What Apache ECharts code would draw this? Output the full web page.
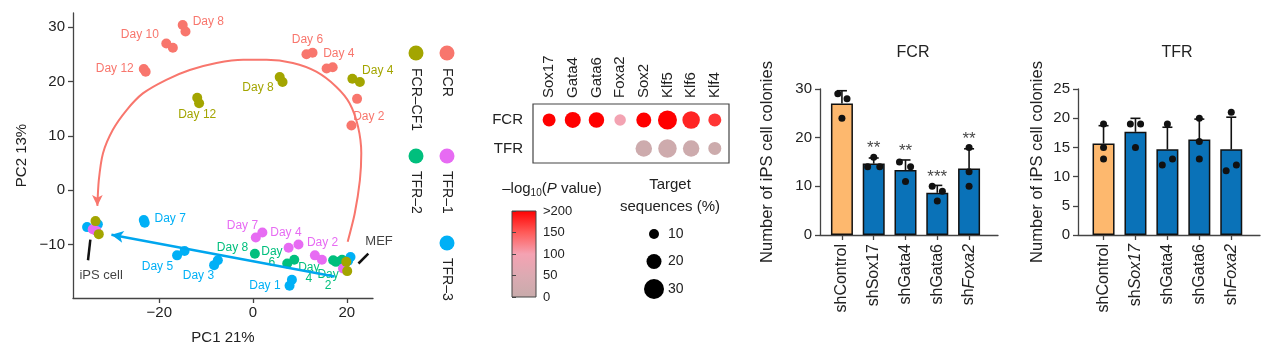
<!DOCTYPE html>
<html>
<head>
<meta charset="utf-8">
<script src="https://cdn.jsdelivr.net/npm/echarts@6/dist/echarts.min.js"></script>
<style>
  html, body { margin: 0; background: #fff; }
  #chart { width: 1269px; height: 354px; }
</style>
</head>
<body>
<div id="chart"></div>
<script>
const FONT = 'Liberation Sans, Arial, sans-serif';

// ---- PCA: [PC1, PC2, day label] (two replicates per time point) ----
const fcrPts = [
  [-15.0, 30.4, 'Day 8'], [-14.4, 29.2, ''],
  [-18.5, 27.0, 'Day 10'], [-17.1, 26.2, ''],
  [-23.3, 22.3, 'Day 12'], [-22.9, 21.8, ''],
  [11.4, 25.0, 'Day 6'], [12.7, 25.3, ''],
  [15.7, 22.4, 'Day 4'], [17.0, 22.6, ''],
  [21.0, 11.9, 'Day 2'], [22.2, 16.8, '']
];
const cf1Pts = [
  [21.2, 20.5, 'Day 4'], [22.8, 19.9, ''],
  [5.7, 20.8, 'Day 8'], [6.3, 19.9, ''],
  [-11.9, 17.0, 'Day 12'], [-11.5, 16.0, ''],
  [-33.6, -5.7, ''], [-32.9, -8.1, ''],
  [19.9, -13.2, ''], [20.1, -14.9, '']
];
const tfr1Pts = [
  [0.6, -8.7, 'Day 7'], [2.0, -7.8, ''],
  [7.6, -10.6, 'Day 4'], [9.7, -10.0, ''],
  [13.2, -12.0, 'Day 2'], [14.7, -12.8, ''],
  [-34.2, -7.2, ''], [-33.4, -7.5, ''],
  [19.2, -14.4, '']
];
const tfr2Pts = [
  [0.4, -11.7, 'Day 8'],
  [7.3, -13.5, 'Day\n6'], [8.8, -12.8, ''],
  [17.1, -12.9, 'Day\n4'], [17.7, -13.2, ''],
  [19.0, -12.8, 'Day\n2'], [19.5, -13.6, '']
];
const tfr3Pts = [
  [-23.3, -5.5, 'Day 7'], [-23.1, -6.0, ''],
  [-16.2, -12.0, 'Day 5'], [-14.6, -11.2, ''],
  [-8.3, -13.8, 'Day 3'], [-7.5, -12.9, ''],
  [7.8, -17.6, 'Day 1'], [8.3, -16.5, ''],
  [-35.4, -6.8, ''], [-33.1, -6.3, ''],
  [20.8, -12.3, ''], [20.3, -13.0, '']
];
// trajectory arrows (data coords)
const fcrArc = [
  [20.2, -9.5], [21.7, -4.3], [22.8, 1.8], [23.1, 6.8], [22.4, 11.7], [20.6, 16.0],
  [17.8, 19.0], [13.5, 21.8], [8.5, 23.4], [2.9, 24.0], [-2.1, 24.0], [-7.8, 23.4],
  [-13.5, 22.1], [-18.5, 20.3], [-23.5, 17.8], [-27.0, 14.7], [-29.9, 11.1],
  [-32.0, 6.8], [-32.9, 1.8], [-33.2, -2.9]
];
const tfrArrow = [[17.4, -15.9], [-30.2, -8.2]];
const pcaNotes = [
  { text: 'iPS cell', at: [-32.4, -15.7], line: [[-34.7, -9.1], [-35.2, -12.9]] },
  { text: 'MEF', at: [26.9, -9.5], line: [[22.5, -13.5], [24.6, -11.7]] }
];

// ---- motif dot plot ----
const genes = ['Sox17', 'Gata4', 'Gata6', 'Foxa2', 'Sox2', 'Klf5', 'Klf6', 'Klf4'];
const rows = ['FCR', 'TFR'];
const fcrTarget = [16, 22, 21, 13, 20, 28, 25, 16];      // target sequences (%)
const fcrLogP = [200, 200, 200, 95, 200, 200, 180, 170]; // -log10 P
const tfrTarget = [null, null, null, null, 23, 27, 23, 16];
const tfrLogP = [null, null, null, null, 12, 14, 12, 10];
const sizeLegend = [10, 20, 30];
const pTicks = [0, 50, 100, 150, 200];
const pColors = ['#c8abab', '#dcaab2', '#f5a2b2', '#ff5a58', '#ff0000'];

// ---- iPS colony counts (3 replicates) ----
const shNames = ['shControl', 'shSox17', 'shGata4', 'shGata6', 'shFoxa2'];
const fcrCounts = [[29, 28, 24], [14, 14, 16], [15, 14, 11], [10, 9, 7], [18, 13, 10]];
const fcrStars = ['', '**', '**', '***', '**'];
const tfrCounts = [[19, 15, 13], [19, 19, 15], [19, 12, 13], [20, 16, 13], [21, 11, 12]];
const fcrItalic = [false, false, false, false, true];
const tfrItalic = [false, true, false, false, true];
// horizontal dot offsets (in bar units) to mimic jitter
const fcrJitter = [[-0.13, 0.16, 0], [-0.19, 0.19, 0], [-0.19, 0.16, 0], [-0.16, 0.16, 0], [0, 0, 0]];
const tfrJitter = [[0, 0, 0], [-0.16, 0.16, 0], [0, -0.16, 0.16], [0, 0, 0], [0, -0.16, 0.16]];

const mean = a => a.reduce((s, v) => s + v, 0) / a.length;
const sd = a => { const m = mean(a); return Math.sqrt(a.reduce((s, v) => s + (v - m) ** 2, 0) / (a.length - 1)); };

const labelPlace = {
  'FCR|Day 8': ['left', 10, -3.3], 'FCR|Day 10': ['right', -7.4, -8.3], 'FCR|Day 12': ['right', -10, -0.7],
  'FCR|Day 6': ['center', 1, -14.3], 'FCR|Day 4': ['left', -3.4, -14.6], 'FCR|Day 2': ['left', 1.7, -9],
  'FCR–CF1|Day 4': ['left', 9.7, -8.3], 'FCR–CF1|Day 8': ['right', -6, 11], 'FCR–CF1|Day 12': ['center', 0, 17.3],
  'TFR–1|Day 7': ['right', 2.3, -11.6], 'TFR–1|Day 4': ['center', -2.7, -15], 'TFR–1|Day 2': ['left', -8, -12.7],
  'TFR–2|Day 8': ['right', -6.7, -5.6], 'TFR–2|Day 6': ['center', -15.3, -6.6],
  'TFR–2|Day 4': ['center', -24.3, 12.5], 'TFR–2|Day 2': ['center', -14, 20],
  'TFR–3|Day 7': ['left', 10.7, -1], 'TFR–3|Day 5': ['right', -4, 11.7],
  'TFR–3|Day 3': ['right', 0, 11], 'TFR–3|Day 1': ['right', -9, 0]
};
const groupColor = { 'FCR': '#F8766D', 'FCR–CF1': '#A3A500', 'TFR–1': '#E76BF3', 'TFR–2': '#00BF7D', 'TFR–3': '#00B0F6' };

function pcaSeries(name, pts) {
  const color = groupColor[name];
  return {
    type: 'scatter', name, xAxisIndex: 0, yAxisIndex: 0, symbolSize: 10,
    itemStyle: { color, opacity: 1 },
    data: pts.map(p => {
      const item = { value: [p[0], p[1]] };
      if (p[2]) {
        const pl = labelPlace[name + '|' + p[2].replace('\n', ' ')];
        item.label = {
          show: true, formatter: p[2], position: 'inside', align: pl[0], verticalAlign: 'middle',
          offset: [pl[1], pl[2]], color, fontSize: 12, lineHeight: 11, fontFamily: FONT
        };
      }
      return item;
    })
  };
}

const dotSize = pct => 5 + 0.5 * pct;

function barLabel(names, italic) {
  return v => {
    const i = Math.round(v);
    return italic[i] ? '{n|sh}{i|' + names[i].slice(2) + '}' : '{n|' + names[i] + '}';
  };
}

function barSet(idx, counts, jitter, stars) {
  const base = counts.map((c, i) => ({
    value: [i, mean(c)],
    itemStyle: { color: i === 0 ? '#FDB86E' : '#0A72B8' }
  }));
  const dots = [];
  counts.forEach((c, i) => c.forEach((v, j) => dots.push([i + jitter[i][j], v])));
  const out = [
    {
      type: 'bar', xAxisIndex: idx, yAxisIndex: idx, barWidth: 22, z: 2,
      itemStyle: { borderColor: '#111', borderWidth: 1.5 }, data: base
    },
    {
      type: 'custom', xAxisIndex: idx, yAxisIndex: idx, z: 3,
      data: counts.map((c, i) => [i, mean(c), sd(c)]),
      encode: { x: 0, y: 1 },
      renderItem: (params, api) => {
        const x = api.value(0), m = api.value(1), s = api.value(2);
        const a = api.coord([x, m]), b = api.coord([x, m + s]);
        const style = { stroke: '#111', lineWidth: 1.6 };
        return {
          type: 'group', children: [
            { type: 'line', shape: { x1: a[0], y1: a[1], x2: b[0], y2: b[1] }, style },
            { type: 'line', shape: { x1: b[0] - 5, y1: b[1], x2: b[0] + 5, y2: b[1] }, style }
          ]
        };
      }
    },
    {
      type: 'scatter', xAxisIndex: idx, yAxisIndex: idx, z: 4, symbolSize: 7,
      itemStyle: { color: '#111', opacity: 1 }, data: dots
    }
  ];
  if (stars) {
    out.push({
      type: 'scatter', xAxisIndex: idx, yAxisIndex: idx, z: 5, symbolSize: 0, silent: true,
      data: counts.map((c, i) => [i, Math.max(mean(c) + sd(c), Math.max(...c))]),
      label: {
        show: true, position: 'top', distance: 0, fontSize: 17, color: '#111', fontFamily: FONT,
        formatter: p => stars[p.dataIndex]
      }
    });
  }
  return out;
}

const axisLineStyle = { color: '#444', width: 1.3 };
const barRich = { n: { fontSize: 16, fontFamily: FONT, color: '#222' }, i: { fontSize: 16, fontFamily: FONT, color: '#222', fontStyle: 'italic' } };

function barAxes(idx, names, italic, yMax, yInt, xMin, xMax, nameGap) {
  const ticks = names.map((_, i) => i);
  const x = {
    gridIndex: idx, type: 'value', min: xMin, max: xMax,
    axisLine: { show: true, onZero: false, lineStyle: axisLineStyle },
    axisTick: { show: true, customValues: ticks, length: 5, lineStyle: axisLineStyle },
    axisLabel: { customValues: ticks, rotate: 90, margin: 9, formatter: barLabel(names, italic), rich: barRich },
    splitLine: { show: false }
  };
  const y = {
    gridIndex: idx, type: 'value', min: 0, max: yMax, interval: yInt,
    axisLine: { show: true, onZero: false, lineStyle: axisLineStyle },
    axisTick: { show: true, length: 5, lineStyle: axisLineStyle },
    axisLabel: { fontSize: 15, color: '#222', margin: 8 },
    splitLine: { show: false },
    name: 'Number of iPS cell colonies', nameLocation: 'middle', nameGap,
    nameTextStyle: { fontSize: 16.5, color: '#222', fontFamily: FONT }
  };
  return [x, y];
}

const chart = echarts.init(document.getElementById('chart'));

const fcrAx = barAxes(4, shNames, fcrItalic, 30, 10, -0.69, 4.91, 44);
const tfrAx = barAxes(5, shNames, tfrItalic, 25, 5, -0.8, 4.9, 32);

const pcaTicksX = [-20, 0, 20];
const pcaTicksY = [-10, 0, 10, 20, 30];
const minus = v => (v < 0 ? '\u2212' + (-v) : '' + v);

const gradStops = pColors.map((c, i) => ({ offset: 1 - pTicks[i] / 200, color: c })).reverse();

const option = {
  animation: false,
  textStyle: { fontFamily: FONT },
  title: [
    { text: 'FCR', left: 908, top: 40, textAlign: 'center', textStyle: { fontSize: 16, fontWeight: 'normal', color: '#222', fontFamily: FONT } },
    { text: 'TFR', left: 1172, top: 40, textAlign: 'center', textStyle: { fontSize: 16, fontWeight: 'normal', color: '#222', fontFamily: FONT } }
  ],
  grid: [
    { left: 73, top: 13, width: 300, height: 285 },
    { left: 533, top: 104, width: 196, height: 59, show: true, borderColor: '#444', borderWidth: 1.2, backgroundColor: 'transparent' },
    { left: 512, top: 211, width: 24, height: 86, show: true, borderColor: '#444', borderWidth: 1,
      backgroundColor: new echarts.graphic.LinearGradient(0, 0, 0, 1, gradStops) },
    { left: 644, top: 234, width: 20, height: 55 },
    { left: 820, top: 89, width: 178, height: 146 },
    { left: 1078, top: 89, width: 182, height: 146 }
  ],
  xAxis: [
    {
      gridIndex: 0, type: 'value', min: -38.4, max: 25.6,
      axisLine: { show: true, onZero: false, lineStyle: axisLineStyle },
      axisTick: { show: true, customValues: pcaTicksX, length: 5, lineStyle: axisLineStyle },
      axisLabel: { customValues: pcaTicksX, fontSize: 15, color: '#222', formatter: minus, margin: 7 },
      splitLine: { show: false },
      name: 'PC1 21%', nameLocation: 'middle', nameGap: 32,
      nameTextStyle: { fontSize: 15, color: '#222', fontFamily: FONT }
    },
    {
      gridIndex: 1, type: 'value', min: -0.68, max: 7.6, position: 'top',
      axisLine: { show: false }, axisTick: { show: false }, splitLine: { show: false },
      axisLabel: { customValues: genes.map((_, i) => i), rotate: 90, margin: 6, fontSize: 15, color: '#222',
        formatter: v => genes[Math.round(v)] }
    },
    { gridIndex: 2, type: 'value', min: 0, max: 1, show: false },
    { gridIndex: 3, type: 'value', min: -1, max: 1, show: false },
    fcrAx[0], tfrAx[0]
  ],
  yAxis: [
    {
      gridIndex: 0, type: 'value', min: -19.85, max: 32.6,
      axisLine: { show: true, onZero: false, lineStyle: axisLineStyle },
      axisTick: { show: true, customValues: pcaTicksY, length: 5, lineStyle: axisLineStyle },
      axisLabel: { customValues: pcaTicksY, fontSize: 15, color: '#222', formatter: minus, margin: 8 },
      splitLine: { show: false },
      name: 'PC2 13%', nameLocation: 'middle', nameGap: 44,
      nameTextStyle: { fontSize: 15, color: '#222', fontFamily: FONT }
    },
    {
      gridIndex: 1, type: 'value', inverse: true, min: -0.56, max: 1.51,
      axisLine: { show: false }, axisTick: { show: false }, splitLine: { show: false },
      axisLabel: { customValues: [0, 1], margin: 10, fontSize: 15, color: '#222', formatter: v => rows[Math.round(v)] }
    },
    {
      gridIndex: 2, type: 'value', min: 0, max: 200, interval: 50, position: 'right',
      axisLine: { show: false }, splitLine: { show: false },
      axisTick: { show: true, length: 4, lineStyle: { color: '#444' } },
      axisLabel: { fontSize: 13, color: '#222', margin: 7, formatter: v => (v === 200 ? '>200' : v) }
    },
    { gridIndex: 3, type: 'value', inverse: true, min: 10, max: 30, show: false },
    fcrAx[1], tfrAx[1]
  ],
  visualMap: [{
    type: 'continuous', show: false, seriesIndex: [10], dimension: 3, min: 0, max: 200,
    inRange: { color: pColors }
  }],
  series: [
    pcaSeries('FCR', fcrPts),
    pcaSeries('TFR–3', tfr3Pts),
    pcaSeries('TFR–2', tfr2Pts),
    pcaSeries('TFR–1', tfr1Pts),
    pcaSeries('FCR–CF1', cf1Pts),
    {
      type: 'line', xAxisIndex: 0, yAxisIndex: 0, smooth: 0.25, symbol: 'none', z: 1,
      lineStyle: { color: '#F8766D', width: 2 }, itemStyle: { color: '#F8766D' },
      data: fcrArc.map((p, i) => i === fcrArc.length - 1
        ? { value: p, symbol: 'arrow', symbolSize: [8, 11], symbolRotate: 180 } : p)
    },
    {
      type: 'line', xAxisIndex: 0, yAxisIndex: 0, data: [], symbol: 'none',
      markLine: {
        silent: true, symbol: ['none', 'arrow'], symbolSize: [9, 12],
        label: { show: false },
        lineStyle: { color: '#00A6EE', width: 2.5, type: 'solid' },
        data: [[{ coord: tfrArrow[0] }, { coord: tfrArrow[1] }]]
      }
    },
    {
      type: 'line', xAxisIndex: 0, yAxisIndex: 0, data: [], symbol: 'none',
      markLine: {
        silent: true, symbol: ['none', 'none'], label: { show: false },
        lineStyle: { color: '#111', width: 2.5, type: 'solid' },
        data: pcaNotes.map(n => [{ coord: n.line[0] }, { coord: n.line[1] }])
      }
    },
    {
      type: 'scatter', xAxisIndex: 0, yAxisIndex: 0, symbolSize: 0, clip: false, silent: true,
      data: pcaNotes.map(n => ({ value: n.at, name: n.text })),
      label: { show: true, position: 'inside', formatter: p => p.name, fontSize: 13, color: '#111', fontFamily: FONT }
    },
    // size legend
    {
      type: 'scatter', xAxisIndex: 3, yAxisIndex: 3, silent: true,
      itemStyle: { color: '#000', opacity: 1 },
      symbolSize: v => dotSize(v[1]),
      data: sizeLegend.map(v => [0, v]),
      label: { show: true, position: 'inside', align: 'left', offset: [14, 0], fontSize: 14, color: '#222',
        fontFamily: FONT, formatter: p => p.value[1] }
    },
    {
      type: 'scatter', xAxisIndex: 1, yAxisIndex: 1, silent: true,
      itemStyle: { opacity: 1 },
      symbolSize: v => dotSize(v[2]),
      data: [
        ...fcrTarget.map((t, i) => [i, 0, t, fcrLogP[i]]),
        ...tfrTarget.map((t, i) => [i, 1, t, tfrLogP[i]]).filter(d => d[2] !== null)
      ]
    },
    ...barSet(4, fcrCounts, fcrJitter, fcrStars),
    ...barSet(5, tfrCounts, tfrJitter, null)
  ],
  graphic: [
    // group legend: dots with vertical names
    ...[['FCR–CF1', 416, 53], ['FCR', 447, 53], ['TFR–2', 416, 156], ['TFR–1', 447, 156], ['TFR–3', 447, 243]]
      .flatMap(([n, x, y]) => [
        { type: 'circle', shape: { cx: x, cy: y, r: 7.5 }, style: { fill: groupColor[n] } },
        { type: 'text', x: x, y: y + 15, rotation: -Math.PI / 2,
          style: { text: n, fontSize: 14, fontFamily: FONT, fill: '#222', align: 'left', verticalAlign: 'middle' } }
      ]),
    {
      type: 'text', x: 552, y: 189,
      style: {
        text: '{a|\u2013log}{s|10}{a|(}{i|P}{a| value)}', align: 'center', verticalAlign: 'middle',
        rich: {
          a: { fontSize: 15, fontFamily: FONT, fill: '#222' },
          s: { fontSize: 10, fontFamily: FONT, fill: '#222', padding: [8, 0, 0, 0] },
          i: { fontSize: 15, fontFamily: FONT, fill: '#222', fontStyle: 'italic' }
        }
      }
    },
    {
      type: 'text', x: 670, y: 196,
      style: { text: 'Target\nsequences (%)', fontSize: 15, lineHeight: 22, fontFamily: FONT, fill: '#222',
        align: 'center', verticalAlign: 'middle' }
    }
  ]
};

chart.setOption(option);
</script>
</body>
</html>
